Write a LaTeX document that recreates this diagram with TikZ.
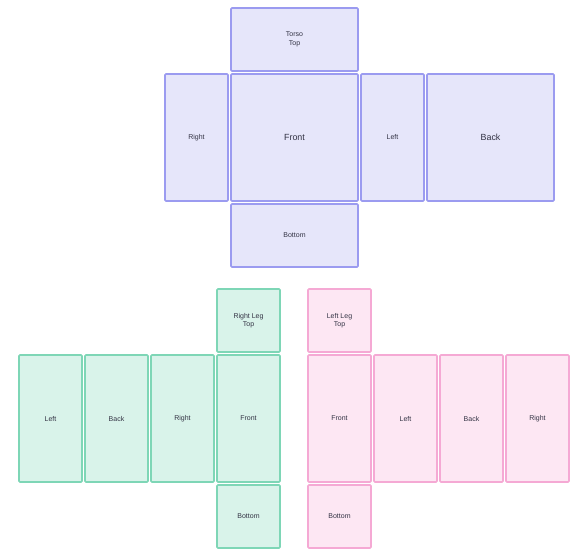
\documentclass[tikz,border=0pt]{standalone}
\usepackage{fontspec}
\setmainfont{Liberation Sans}
\definecolor{pfill}{HTML}{E6E6FA}
\definecolor{pline}{HTML}{9B9BF0}
\definecolor{gfill}{HTML}{D9F3EA}
\definecolor{gline}{HTML}{7ED6B6}
\definecolor{kfill}{HTML}{FDE7F3}
\definecolor{kline}{HTML}{F5A9D4}
\definecolor{txt}{HTML}{333344}
\begin{document}
\begin{tikzpicture}[x=1pt,y=-1pt,
  face/.style={draw, line width=1.6pt, rounded corners=1pt, inner sep=0pt, align=center,
    text=txt, font=\fontsize{7}{8.4}\selectfont},
  sq/.style={minimum width=63pt, minimum height=63pt},
  tall/.style={minimum width=63pt, minimum height=127pt},
  wide/.style={minimum width=127pt, minimum height=63pt},
  big/.style={minimum width=127pt, minimum height=127pt, font=\fontsize{8.9}{10.5}\selectfont},
  torso/.style={face, fill=pfill, draw=pline},
  rleg/.style={face, fill=gfill, draw=gline},
  lleg/.style={face, fill=kfill, draw=kline}]
\useasboundingbox (0,0) rectangle (585,559);
% Torso
\node[torso, wide] (ttop) at (294.5,39.5) {Torso\\Top};
\node[torso, big] (tfront) at (294.5,137.5) {Front};
\node[torso, tall] (tright) at (196.5,137.5) {Right};
\node[torso, tall] (tleft) at (392.5,137.5) {Left};
\node[torso, big] (tback) at (490.5,137.5) {Back};
\node[torso, wide] (tbottom) at (294.5,235.5) {Bottom};
% Right leg
\node[rleg, sq] (rtop) at (248.5,320.5) {Right Leg\\Top};
\node[rleg, tall] (rleft) at (50.5,418.5) {Left};
\node[rleg, tall] (rback) at (116.5,418.5) {Back};
\node[rleg, tall] (rright) at (182.5,418.5) {Right};
\node[rleg, tall] (rfront) at (248.5,418.5) {Front};
\node[rleg, sq] (rbottom) at (248.5,516.5) {Bottom};
% Left leg
\node[lleg, sq] (ltop) at (339.5,320.5) {Left Leg\\Top};
\node[lleg, tall] (lfront) at (339.5,418.5) {Front};
\node[lleg, tall] (lleft) at (405.5,418.5) {Left};
\node[lleg, tall] (lback) at (471.5,418.5) {Back};
\node[lleg, tall] (lright) at (537.5,418.5) {Right};
\node[lleg, sq] (lbottom) at (339.5,516.5) {Bottom};
\end{tikzpicture}
\end{document}
